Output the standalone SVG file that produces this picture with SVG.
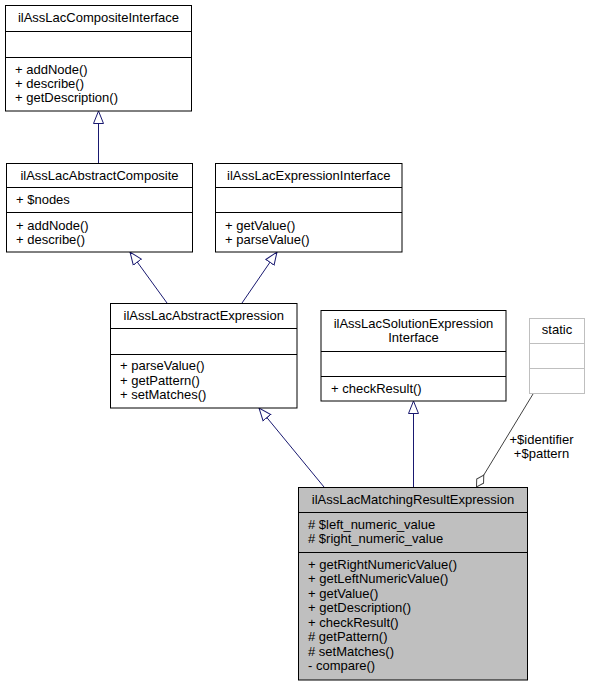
<svg xmlns="http://www.w3.org/2000/svg" width="590" height="687" viewBox="0 0 590 687">
<style>
text{font-family:"Liberation Sans",Arial,Helvetica,sans-serif;font-size:13px;fill:#000}
.t{text-anchor:middle}
.box{fill:#fff;stroke:#000;stroke-width:1}
.cur{fill:#bfbfbf;stroke:#000;stroke-width:1}
.gbox{fill:#fff;stroke:#bfbfbf;stroke-width:1}
.sep{stroke:#000;stroke-width:1}
.gsep{stroke:#bfbfbf;stroke-width:1}
.inh{fill:none;stroke:#191970;stroke-width:1;marker-end:url(#tri)}
.agg{fill:none;stroke:#404040;stroke-width:1;marker-end:url(#dia)}
</style>
<defs>
<marker id="tri" markerUnits="userSpaceOnUse" markerWidth="14" markerHeight="12" refX="13" refY="6" orient="auto" viewBox="0 0 14 12">
<path d="M0.5,1 L13,6 L0.5,11 Z" fill="#fff" stroke="#191970" stroke-width="1"/>
</marker>
<marker id="dia" markerUnits="userSpaceOnUse" markerWidth="16" markerHeight="10" refX="15" refY="5" orient="auto" viewBox="0 0 16 10">
<path d="M1,5 L8,1 L15,5 L8,9 Z" fill="#fff" stroke="#404040" stroke-width="1"/>
</marker>
</defs>
<rect width="590" height="687" fill="#fff"/>
<g id="edges">
<path class="inh" d="M98.5,163 L98.5,111"/>
<path class="inh" d="M167,303 L130,252"/>
<path class="inh" d="M242,303 L277,252"/>
<path class="inh" d="M324,487 L259,408"/>
<path class="inh" d="M413.5,487 L413.5,401"/>
<path class="agg" d="M533,394 L476.5,487"/>
<text x="541.5" y="444" class="t">+$identifier</text>
<text x="541.5" y="458" class="t">+$pattern</text>
</g>
<g id="ilAssLacCompositeInterface">
<rect class="box" x="5.5" y="5.5" width="186" height="105.5"/>
<line class="sep" x1="5.5" y1="31.5" x2="191.5" y2="31.5"/>
<line class="sep" x1="5.5" y1="57.5" x2="191.5" y2="57.5"/>
<text x="98.5" y="22" class="t">ilAssLacCompositeInterface</text>
<text x="15" y="74">+ addNode()</text>
<text x="15" y="88">+ describe()</text>
<text x="15" y="102">+ getDescription()</text>
</g>
<g id="ilAssLacAbstractComposite">
<rect class="box" x="6.5" y="163.5" width="186" height="88.5"/>
<line class="sep" x1="6.5" y1="187.5" x2="192.5" y2="187.5"/>
<line class="sep" x1="6.5" y1="212.5" x2="192.5" y2="212.5"/>
<text x="99.5" y="179.5" class="t">ilAssLacAbstractComposite</text>
<text x="16" y="204">+ $nodes</text>
<text x="16" y="229.5">+ addNode()</text>
<text x="16" y="243.5">+ describe()</text>
</g>
<g id="ilAssLacExpressionInterface">
<rect class="box" x="215.5" y="163.5" width="186.5" height="88.5"/>
<line class="sep" x1="215.5" y1="187.5" x2="402" y2="187.5"/>
<line class="sep" x1="215.5" y1="212.5" x2="402" y2="212.5"/>
<text x="308.75" y="179.5" class="t">ilAssLacExpressionInterface</text>
<text x="225" y="229.5">+ getValue()</text>
<text x="225" y="243.5">+ parseValue()</text>
</g>
<g id="ilAssLacAbstractExpression">
<rect class="box" x="110.5" y="303.5" width="186.5" height="104.5"/>
<line class="sep" x1="110.5" y1="328.5" x2="297" y2="328.5"/>
<line class="sep" x1="110.5" y1="354.5" x2="297" y2="354.5"/>
<text x="203.75" y="319.5" class="t">ilAssLacAbstractExpression</text>
<text x="120" y="370">+ parseValue()</text>
<text x="120" y="384.5">+ getPattern()</text>
<text x="120" y="399">+ setMatches()</text>
</g>
<g id="ilAssLacSolutionExpressionInterface">
<rect class="box" x="321" y="310.5" width="185" height="90.5"/>
<line class="sep" x1="321" y1="351.5" x2="506" y2="351.5"/>
<line class="sep" x1="321" y1="376.5" x2="506" y2="376.5"/>
<text x="413.5" y="327.5" class="t">ilAssLacSolutionExpression</text>
<text x="413.5" y="341.5" class="t">Interface</text>
<text x="331" y="393">+ checkResult()</text>
</g>
<g id="static">
<rect class="gbox" x="529.5" y="318.5" width="55" height="75"/>
<line class="gsep" x1="529.5" y1="343.5" x2="584.5" y2="343.5"/>
<line class="gsep" x1="529.5" y1="368.5" x2="584.5" y2="368.5"/>
<text x="557" y="334" class="t">static</text>
</g>
<g id="ilAssLacMatchingResultExpression">
<rect class="cur" x="298.5" y="487.5" width="229" height="192.5"/>
<line class="sep" x1="298.5" y1="512.5" x2="527.5" y2="512.5"/>
<line class="sep" x1="298.5" y1="552.5" x2="527.5" y2="552.5"/>
<text x="413" y="503.5" class="t">ilAssLacMatchingResultExpression</text>
<text x="308" y="528.5"># $left_numeric_value</text>
<text x="308" y="542.5"># $right_numeric_value</text>
<text x="308" y="568.5">+ getRightNumericValue()</text>
<text x="308" y="583">+ getLeftNumericValue()</text>
<text x="308" y="597.5">+ getValue()</text>
<text x="308" y="612">+ getDescription()</text>
<text x="308" y="626.5">+ checkResult()</text>
<text x="308" y="641"># getPattern()</text>
<text x="308" y="655.5"># setMatches()</text>
<text x="308" y="670">- compare()</text>
</g>
</svg>
